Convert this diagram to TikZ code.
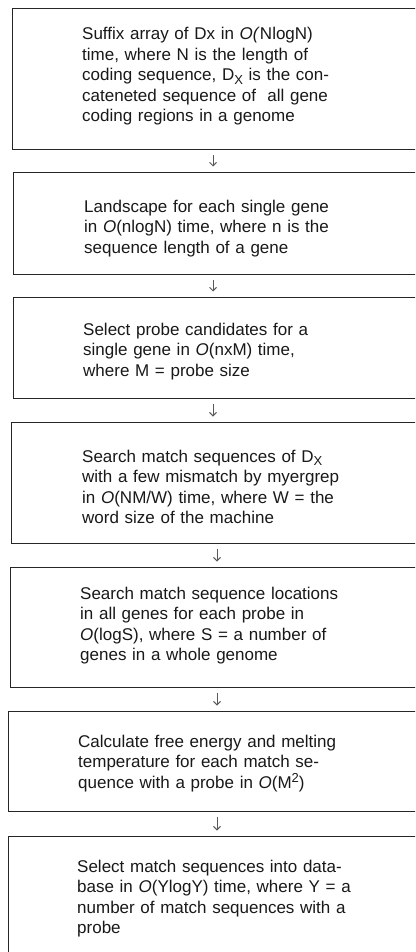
\documentclass[tikz,border=0pt]{standalone}
\usepackage{fontspec}
\setmainfont{Liberation Sans}
\usetikzlibrary{arrows.meta}
\newcommand{\subX}{\raisebox{-3.5pt}{\fontsize{13}{13}\selectfont X}}
\begin{document}
\begin{tikzpicture}[x=1pt,y=-1pt,
  stepbox/.style={draw=black!85,line width=1.3pt,inner sep=0pt,anchor=north west},
  steptext/.style={anchor=base west,inner sep=0pt,text width=330pt,align=left,
    font=\fontsize{17}{20.5}\selectfont,text=black!90},
  arr/.style={draw=black!65,line width=0.9pt,-{Straight Barb[length=3.5pt,width=7pt]},
    shorten <=4.5pt,shorten >=5.5pt}]
\clip (0,0) rectangle (415,952);
\fill[white] (0,0) rectangle (415,952);
% boxes
\node[stepbox,minimum width=418pt,minimum height=141pt] (b1) at (12,8) {};
\node[stepbox,minimum width=417pt,minimum height=102pt] (b2) at (13,172) {};
\node[stepbox,minimum width=417pt,minimum height=101pt] (b3) at (13,297) {};
\node[stepbox,minimum width=419pt,minimum height=121pt] (b4) at (11,422) {};
\node[stepbox,minimum width=420pt,minimum height=120pt] (b5) at (10,567) {};
\node[stepbox,minimum width=422pt,minimum height=100pt] (b6) at (8,711) {};
\node[stepbox,minimum width=422pt,minimum height=134pt] (b7) at (8,836) {};
% texts
\node[steptext] (t1) at (82,40) {Suffix array of Dx in \textit{O(}NlogN)\\
time, where N is the length of\\
coding sequence, D\subX{} is the con-\\
cateneted sequence of\ \ all gene\\
coding regions in a genome};
\node[steptext] (t2) at (84,212) {Landscape for each single gene\\
in \textit{O}(nlogN) time, where n is the\\
sequence length of a gene};
\node[steptext] (t3) at (83,335) {Select probe candidates for a\\
single gene in \textit{O}(nxM) time,\\
where M = probe size};
\node[steptext] (t4) at (82,462) {Search match sequences of D\subX\\
with a few mismatch by myergrep\\
in \textit{O}(NM/W) time, where W = the\\
word size of the machine};
\node[steptext] (t5) at (80,599) {Search match sequence locations\\
in all genes for each probe in\\
\textit{O}(logS), where S = a number of\\
genes in a whole genome};
\node[steptext] (t6) at (78,747) {Calculate free energy and melting\\
temperature for each match se-\\
quence with a probe in \textit{O}(M\raisebox{6pt}{\fontsize{13}{13}\selectfont 2})};
\node[steptext] (t7) at (77,872) {Select match sequences into data-\\
base in \textit{O}(YlogY) time, where Y = a\\
number of match sequences with a\\
probe};
% arrows
\coordinate (ax1) at (213,0);
\coordinate (ax2) at (217,0);
\draw[arr] (b1.south -| ax1) -- (b2.north -| ax1);
\draw[arr] (b2.south -| ax1) -- (b3.north -| ax1);
\draw[arr] (b3.south -| ax1) -- (b4.north -| ax1);
\draw[arr] (b4.south -| ax2) -- (b5.north -| ax2);
\draw[arr] (b5.south -| ax2) -- (b6.north -| ax2);
\draw[arr] (b6.south -| ax2) -- (b7.north -| ax2);
\end{tikzpicture}
\end{document}
